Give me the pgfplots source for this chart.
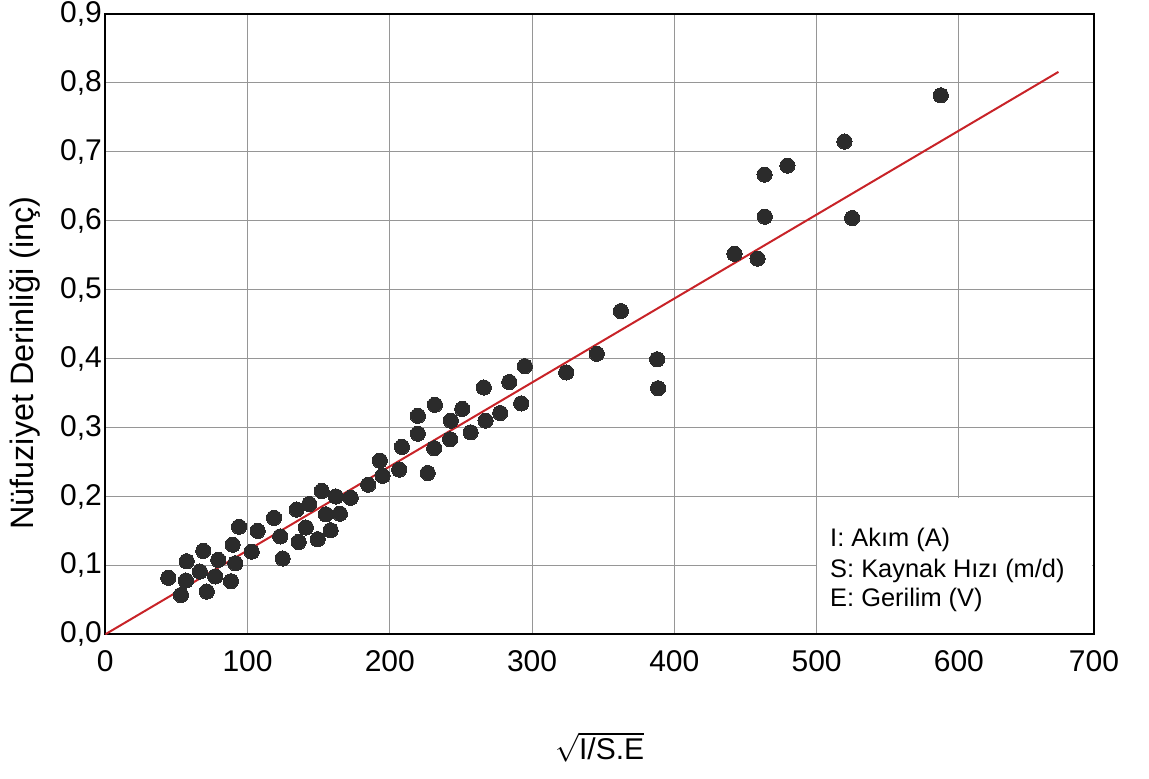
\documentclass[border=0pt]{standalone}
\usepackage{fontspec}
\setmainfont{Liberation Sans}
\usepackage{pgfplots}
\pgfplotsset{compat=1.18}
\definecolor{dotgray}{RGB}{43,43,43}
\definecolor{fitred}{RGB}{200,35,40}
\definecolor{gridgray}{RGB}{150,150,150}

\pgfplotstableread{
x y
44.3 0.082
57.2 0.106
56.7 0.078
53.2 0.057
68.9 0.121
66.5 0.091
71.3 0.062
77.3 0.084
79.4 0.108
89.5 0.130
88.3 0.077
91.4 0.103
94.0 0.156
102.9 0.120
107.1 0.150
118.6 0.169
123.0 0.142
124.7 0.110
134.5 0.181
135.9 0.134
143.4 0.189
141.0 0.155
152.1 0.208
149.3 0.138
155.1 0.174
158.4 0.151
162.1 0.200
164.9 0.175
172.5 0.198
184.8 0.217
193.0 0.252
194.9 0.230
206.6 0.239
208.5 0.272
219.7 0.317
219.7 0.291
226.6 0.234
231.7 0.333
231.2 0.270
242.9 0.310
242.4 0.283
250.9 0.327
256.8 0.293
266.1 0.358
267.3 0.310
277.6 0.321
284.0 0.366
292.3 0.335
294.9 0.389
324.0 0.380
345.5 0.407
362.4 0.469
387.9 0.399
388.6 0.357
442.3 0.552
458.5 0.545
463.4 0.667
463.6 0.606
479.5 0.680
519.6 0.715
525.0 0.604
587.3 0.782
}\olcumler

\begin{document}
\begin{tikzpicture}
\begin{axis}[
    name=ax,
    scale only axis,
    width=494.35pt, height=310.15pt,
    xmin=0, xmax=695, ymin=0, ymax=0.9,
    xtick={0,100,200,300,400,500,600,695},
    xticklabels={0,100,200,300,400,500,600,700},
    ytick={0,0.1,0.2,0.3,0.4,0.5,0.6,0.7,0.8,0.9},
    grid=major,
    major grid style={gridgray, line width=0.5pt},
    major tick length=0pt,
    axis line style={line width=0.9pt},
    tick label style={font=\fontsize{15}{18}\selectfont},
    /pgf/number format/assume math mode=true,
    yticklabel style={inner sep=0pt, xshift=-1.5pt,
        /pgf/number format/.cd, fixed, fixed zerofill, precision=1, use comma},
    xticklabel style={inner sep=0pt, yshift=-8pt},
    label style={font=\fontsize{15}{18}\selectfont},
    xlabel={$\sqrt{\mbox{I/S.E}}$},
    xlabel style={at={(axis description cs:0.5,0)}, anchor=center, yshift=-56.5pt},
    ylabel={Nüfuziyet Derinliği (inç)},
    ylabel style={at={(axis description cs:-0.081,0.437)}, anchor=center,
        font=\fontsize{16.2}{19}\selectfont},
]
% white box for the variable key, hides the grid behind it
\fill[white] (axis cs:500.6,0.002) rectangle (axis cs:693.5,0.1985);
\node[anchor=base west, inner sep=0pt, font=\fontsize{12.7}{15}\selectfont] at (axis cs:509.3,0.128) {I: Akım (A)};
\node[anchor=base west, inner sep=0pt, font=\fontsize{12.7}{15}\selectfont] at (axis cs:509.3,0.082) {S: Kaynak Hızı (m/d)};
\node[anchor=base west, inner sep=0pt, font=\fontsize{12.7}{15}\selectfont] at (axis cs:509.3,0.0404) {E: Gerilim (V)};
% fitted line
\addplot[fitred, line width=1pt] coordinates {(0,0) (670,0.816)};
% measurements
\addplot[only marks, mark=*, mark size=3.8pt,
    mark options={fill=dotgray, draw=dotgray, line width=0pt}] table {\olcumler};
\end{axis}
\path (ax.south west) ++(-52.65pt,-71.85pt) rectangle ++(574.5pt,389pt);
\end{tikzpicture}
\end{document}
